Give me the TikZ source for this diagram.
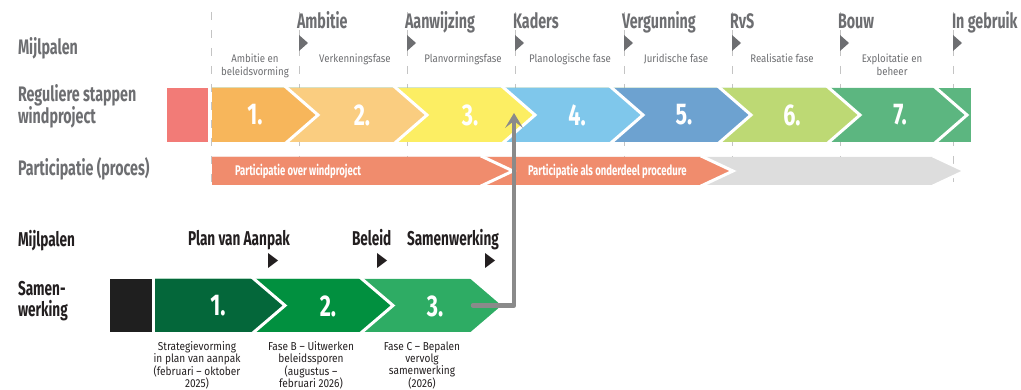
\documentclass[tikz,border=0pt]{standalone}
\usepackage{fontspec}
\setmainfont{Fira Sans}
\newfontfamily\condf[FakeStretch=0.68]{Fira Sans}
\newfontfamily\numf[FakeStretch=0.72]{Fira Sans}
\newfontfamily\smallf[FakeStretch=0.88]{Fira Sans}
\usetikzlibrary{arrows.meta}
\definecolor{txtgray}{HTML}{6D6E71}
\definecolor{guidegray}{HTML}{C4C4C4}
\definecolor{cred}{HTML}{F27B77}
\definecolor{c1}{HTML}{F7B65B}
\definecolor{c2}{HTML}{FACD80}
\definecolor{c3}{HTML}{FCEE63}
\definecolor{c4}{HTML}{7FC7EB}
\definecolor{c5}{HTML}{6DA2D0}
\definecolor{c6}{HTML}{BDD974}
\definecolor{c7}{HTML}{5CB680}
\definecolor{psalm}{HTML}{F08C6D}
\definecolor{pgray}{HTML}{DDDDDD}
\definecolor{g1}{HTML}{04673A}
\definecolor{g2}{HTML}{01903F}
\definecolor{g3}{HTML}{2EAC64}
\definecolor{blk}{HTML}{1F1F1F}
\definecolor{conngray}{HTML}{8A8A8A}
\definecolor{txtblack}{HTML}{231F20}
\begin{document}
\begin{tikzpicture}[x=1pt,y=-1pt,
  every node/.style={inner sep=0pt, outer sep=0pt},
  head/.style={font=\condf\bfseries\fontsize{21}{22}\selectfont, text=txtgray, anchor=base west},
  headblk/.style={font=\condf\bfseries\fontsize{20}{22}\selectfont, text=txtblack, anchor=base west},
  num/.style={font=\numf\bfseries\fontsize{30}{31}\selectfont, text=white},
  ptext/.style={font=\condf\bfseries\fontsize{14}{15}\selectfont, text=white, anchor=base west},
  phase/.style={font=\smallf\fontsize{11}{13}\selectfont, text=txtgray, anchor=base},
  desc/.style={font=\smallf\fontsize{11.5}{12.4}\selectfont, text=txtblack, align=center, anchor=north},
  guide/.style={draw=guidegray, line width=0.9pt, dash pattern=on 8pt off 10pt},
  sep/.style={draw=white, line width=3pt},
  conn/.style={draw=conngray, line width=4.5pt, line cap=round, line join=round}
]
\useasboundingbox (0,0) rectangle (1021,390);

% guide lines
\foreach \x in {211,299,407,515,624,732,840,953}
  \draw[guide] (\x,12) -- (\x,186);

% milestone triangles (top)
\foreach \x in {299,407,515,624,732,840,953}
  \fill[txtgray] (\x,35) -- ({\x+9},43) -- (\x,51) -- cycle;

% milestone labels (top)
\node[head] (mA) at (297,29) {Ambitie};
\node[head] (mB) at (405,29) {Aanwijzing};
\node[head] (mC) at (513,29) {Kaders};
\node[head] (mD) at (622,29) {Vergunning};
\node[head] (mE) at (730,29) {RvS};
\node[head] (mF) at (838,29) {Bouw};
\node[head] (mG) at (952,29) {In gebruik};

% left labels (top)
\node[head] (lMijl) at (18,55) {Mijlpalen};
\node[head] (lReg1) at (18,102) {Reguliere stappen};
\node[head] (lReg2) at (18,124) {windproject};
\node[head] (lPart) at (18,176) {Participatie (proces)};

% phase labels
\node[phase] (p1a) at (255,63) {Ambitie en};
\node[phase] (p1b) at (255,76) {beleidsvorming};
\node[phase] (p2) at (355,63) {Verkenningsfase};
\node[phase] (p3) at (463,63) {Planvormingsfase};
\node[phase] (p4) at (570,63) {Planologische fase};
\node[phase] (p5) at (676,63) {Juridische fase};
\node[phase] (p6) at (782,63) {Realisatie fase};
\node[phase] (p7a) at (892,63) {Exploitatie en};
\node[phase] (p7b) at (892,76) {beheer};

% regular steps bar
\fill[cred] (167,88) rectangle (208,142);
\begin{scope}
  \clip (212,88) rectangle (971,142);
  \fill[c7] (212,88) rectangle (971,142);
  \foreach \t/\c in {967/c7,860/c6,751/c5,643/c4,535/c3,427/c2,318/c1}{
    \fill[\c] (212,88) -- ({\t-31},88) -- (\t,115) -- ({\t-31},142) -- (212,142) -- cycle;
    \draw[sep] ({\t-33.3},86) -- (\t,115) -- ({\t-33.3},144);
  }
\end{scope}
\node[num] (s1) at (255,115) {1.};
\node[num] (s2) at (362,115) {2.};
\node[num] (s3) at (470,115) {3.};
\node[num] (s4) at (577,115) {4.};
\node[num] (s5) at (684,115) {5.};
\node[num] (s6) at (792,115) {6.};
\node[num] (s7) at (900,115) {7.};

% participation bar
\begin{scope}
  \clip (212,157) rectangle (980,185);
  \foreach \t/\c in {965/pgray,733/psalm,513/psalm}{
    \fill[\c] (212,157) -- ({\t-30},157) -- (\t,171) -- ({\t-30},185) -- (212,185) -- cycle;
    \draw[sep] ({\t-32.2},155.9) -- (\t,171) -- ({\t-32.2},186.1);
  }
\end{scope}
\node[ptext] (pt1) at (235,176) {Participatie over windproject};
\node[ptext] (pt2) at (528,176) {Participatie als onderdeel procedure};

% bottom section labels
\node[headblk] (bMijl) at (18,247) {Mijlpalen};
\node[headblk] (bSam1) at (18,296) {Samen-};
\node[headblk] (bSam2) at (18,317) {werking};
\node[headblk] (bmA) at (188,246) {Plan van Aanpak};
\node[headblk] (bmB) at (352,246) {Beleid};
\node[headblk] (bmC) at (407,246) {Samenwerking};
\foreach \x in {268,377,485}
  \fill[txtblack] (\x,253) -- ({\x+10},260.5) -- (\x,268) -- cycle;

% cooperation bar
\fill[blk] (110,279) rectangle (152,332);
\begin{scope}
  \clip (155,279) rectangle (510,332);
  \foreach \t/\c in {504/g3,393/g2,285/g1}{
    \fill[\c] (155,279) -- ({\t-31},279) -- (\t,305.5) -- ({\t-31},332) -- (155,332) -- cycle;
    \draw[sep] ({\t-33.3},277) -- (\t,305.5) -- ({\t-33.3},334);
  }
\end{scope}
\node[num] (b1) at (218,306) {1.};
\node[num] (b2) at (328,306) {2.};
\node[num] (b3) at (435,306) {3.};

% descriptions
\node[desc] (d1) at (197,341.5) {Strategievorming\\in plan van aanpak\\(februari – oktober\\2025)};
\node[desc] (d2) at (311,341.5) {Fase B – Uitwerken\\beleidssporen\\(augustus –\\februari 2026)};
\node[desc] (d3) at (422,341.5) {Fase C – Bepalen\\vervolg\\samenwerking\\(2026)};

% connector with chevron arrowhead
\coordinate (cfrom) at (473,305.5);
\coordinate (cto) at (514,113);
\coordinate (ctoL) at (505,128);
\coordinate (ctoR) at (523,128);
\coordinate (cbase) at (514,121);
\draw[conn] (cfrom) -| (cbase);
\fill[conngray] (cto) -- (ctoR) -- (cbase) -- (ctoL) -- cycle;
\end{tikzpicture}
\end{document}
